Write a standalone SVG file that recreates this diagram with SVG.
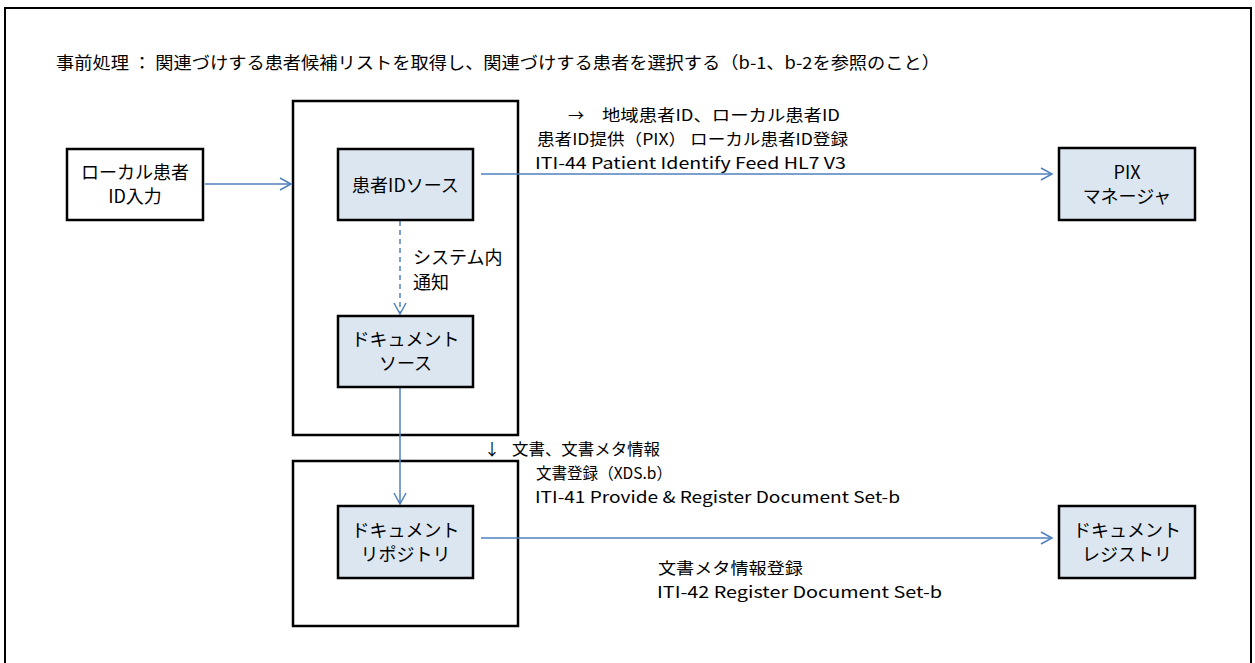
<svg xmlns="http://www.w3.org/2000/svg" width="1255" height="663" viewBox="0 0 1255 663">
<style>
  text { font-family: "Noto Sans CJK JP", "Noto Sans", sans-serif; font-size: 18px; fill: #000; }
  .lbl { font-size: 16px; }
  .ttl { font-size: 17px; }
  .mid { text-anchor: middle; }
  .frame { fill: #fff; stroke: #000; stroke-width: 2; }
  .cont { fill: none; stroke: #000; stroke-width: 2.5; }
  .node { fill: #DCE6F1; stroke: #000; stroke-width: 2.5; }
  .plain { fill: #fff; stroke: #000; stroke-width: 2.5; }
  .conn { fill: none; stroke: #4F81BD; stroke-width: 1.5; }
  .dash { stroke-dasharray: 5 4; }
</style>
<defs>
  <marker id="arr" markerWidth="14" markerHeight="14" refX="12" refY="7" orient="auto" markerUnits="userSpaceOnUse">
    <path d="M1,1 L12,7 L1,13" fill="none" stroke="#4F81BD" stroke-width="1.5"/>
  </marker>
</defs>
<rect x="5" y="8" width="1246" height="665" class="frame"/>
<text class="ttl" x="56" y="69" textLength="884" lengthAdjust="spacingAndGlyphs">事前処理 ： 関連づけする患者候補リストを取得し、関連づけする患者を選択する（b-1、b-2を参照のこと）</text>

<g id="container-source">
  <rect x="293" y="101" width="225" height="334" class="cont"/>
</g>
<g id="container-repository">
  <rect x="293" y="461" width="225" height="165" class="cont"/>
</g>

<g id="connectors">
  <line x1="205" y1="184" x2="291" y2="184" class="conn" marker-end="url(#arr)"/>
  <line x1="481" y1="174" x2="1052" y2="174" class="conn" marker-end="url(#arr)"/>
  <line x1="400" y1="221" x2="400" y2="314" class="conn dash" marker-end="url(#arr)"/>
  <line x1="400" y1="388" x2="400" y2="504" class="conn" marker-end="url(#arr)"/>
  <line x1="481" y1="538" x2="1052" y2="538" class="conn" marker-end="url(#arr)"/>
</g>

<g id="node-local-input">
  <rect x="67" y="149" width="136" height="71" class="plain"/>
  <text x="135" y="179" class="mid">ローカル患者</text>
  <text x="135" y="203" class="mid">ID入力</text>
</g>
<g id="node-patient-id-source">
  <rect x="338" y="149" width="135" height="71" class="node"/>
  <text x="405.5" y="192" class="mid">患者IDソース</text>
</g>
<g id="node-pix-manager">
  <rect x="1059" y="148" width="136" height="72" class="node"/>
  <text x="1127" y="179" class="mid">PIX</text>
  <text x="1127" y="203" class="mid">マネージャ</text>
</g>
<g id="node-document-source">
  <rect x="338" y="316" width="135" height="71" class="node"/>
  <text x="405.5" y="346" class="mid">ドキュメント</text>
  <text x="405.5" y="370" class="mid">ソース</text>
</g>
<g id="node-document-repository">
  <rect x="338" y="506" width="135" height="72" class="node"/>
  <text x="405.5" y="537" class="mid">ドキュメント</text>
  <text x="405.5" y="561" class="mid">リポジトリ</text>
</g>
<g id="node-document-registry">
  <rect x="1059" y="506" width="136" height="72" class="node"/>
  <text x="1127" y="537" class="mid">ドキュメント</text>
  <text x="1127" y="561" class="mid">レジストリ</text>
</g>

<g id="labels">
  <text class="lbl" x="568" y="121">→</text>
  <text class="lbl" x="602" y="121" textLength="238" lengthAdjust="spacingAndGlyphs">地域患者ID、ローカル患者ID</text>
  <text class="lbl" x="537" y="145" textLength="311" lengthAdjust="spacingAndGlyphs">患者ID提供（PIX） ローカル患者ID登録</text>
  <text class="lbl" x="535" y="169" textLength="311" lengthAdjust="spacingAndGlyphs">ITI-44  Patient Identify Feed HL7 V3</text>
  <text x="413" y="264">システム内</text>
  <text x="413" y="289">通知</text>
  <text class="lbl" x="484" y="455">↓</text>
  <text class="lbl" x="512" y="455" textLength="148" lengthAdjust="spacingAndGlyphs">文書、文書メタ情報</text>
  <text class="lbl" x="536" y="479" textLength="136" lengthAdjust="spacingAndGlyphs">文書登録（XDS.b）</text>
  <text class="lbl" x="535" y="503" textLength="365" lengthAdjust="spacingAndGlyphs">ITI-41  Provide &amp; Register Document Set-b</text>
  <text class="lbl" x="658" y="574" textLength="145" lengthAdjust="spacingAndGlyphs">文書メタ情報登録</text>
  <text class="lbl" x="657" y="598" textLength="285" lengthAdjust="spacingAndGlyphs">ITI-42  Register Document Set-b</text>
</g>
</svg>
